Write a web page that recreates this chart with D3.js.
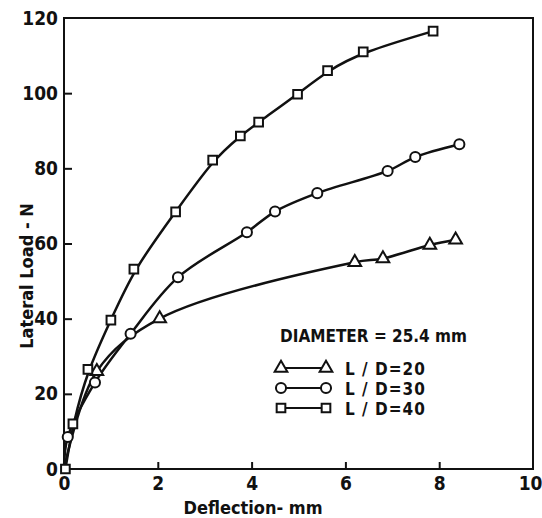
<!DOCTYPE html>
<html>
<head>
<meta charset="utf-8">
<script src="https://cdn.jsdelivr.net/npm/d3@7"></script>
<style>
  body { margin: 0; background: #fff; }
  text { font-family: "DejaVu Sans Condensed", "DejaVu Sans", sans-serif; font-weight: bold; fill: #111; }
</style>
</head>
<body>
<svg class="main" width="542" height="518"></svg>
<script>
// data (deflection mm, lateral load N)
const tri = [
  {x: 0, y: 0}, {x: 0.7, y: 26}, {x: 2.04, y: 40}, {x: 6.2, y: 55},
  {x: 6.8, y: 56}, {x: 7.8, y: 59.6}, {x: 8.35, y: 61}
];
const circ = [
  {x: 0, y: 0}, {x: 0.08, y: 8.5}, {x: 0.66, y: 23}, {x: 1.42, y: 36}, {x: 2.43, y: 51},
  {x: 3.9, y: 63}, {x: 4.5, y: 68.5}, {x: 5.4, y: 73.4}, {x: 6.9, y: 79.3},
  {x: 7.49, y: 83}, {x: 8.43, y: 86.4}
];
const sq = [
  {x: 0.03, y: 0}, {x: 0.19, y: 12}, {x: 0.51, y: 26.5}, {x: 1.0, y: 39.6}, {x: 1.49, y: 53.2},
  {x: 2.38, y: 68.4}, {x: 3.17, y: 82.2}, {x: 3.76, y: 88.6}, {x: 4.15, y: 92.3},
  {x: 4.98, y: 99.7}, {x: 5.62, y: 106}, {x: 6.38, y: 111}, {x: 7.87, y: 116.5}
];
const xTicks = [0, 2, 4, 6, 8, 10];
const yTicks = [0, 20, 40, 60, 80, 100, 120];
const legendLabels = ["L / D=20", "L / D=30", "L / D=40"];

const svg = d3.select("svg.main");
const x = d3.scaleLinear().domain([0, 10]).range([64, 533]);
const y = d3.scaleLinear().domain([0, 120]).range([469, 18]);

// frame
svg.append("rect")
  .attr("x", x(0)).attr("y", y(120))
  .attr("width", x(10) - x(0)).attr("height", y(0) - y(120))
  .attr("fill", "none").attr("stroke", "#111").attr("stroke-width", 2);

// ticks point inward
const xAxis = d3.axisBottom(x).tickValues(xTicks).tickSize(-7).tickPadding(8).tickFormat(d3.format("d"));
const gx = svg.append("g").attr("transform", `translate(0,${y(0)})`).call(xAxis);
const yAxis = d3.axisLeft(y).tickValues(yTicks).tickSize(-8).tickPadding(6).tickFormat(d3.format("d"));
const gy = svg.append("g").attr("transform", `translate(${x(0)},0)`).call(yAxis);
[gx, gy].forEach(g => {
  g.select(".domain").remove();
  g.selectAll("line").attr("stroke", "#111").attr("stroke-width", 2);
  g.selectAll("text").style("font-size", "19px").style("font-family", "DejaVu Sans Condensed, sans-serif").style("font-weight", "bold");
});
gx.selectAll(".tick").filter(d => d === 0 || d === 10).select("line").remove();
gy.selectAll(".tick").filter(d => d === 0 || d === 120).select("line").remove();
// keep "10" inside the window
gx.selectAll(".tick").filter(d => d === 10).select("text").attr("text-anchor", "end").attr("dx", 9);

svg.append("text").attr("x", 253).attr("y", 514).attr("text-anchor", "middle")
  .style("font-size", "18px").text("Deflection- mm");
svg.append("text").attr("transform", "translate(33,276) rotate(-90)").attr("text-anchor", "middle")
  .style("font-size", "18px").text("Lateral Load - N");

// curves: through the points for the sparse series, smoothed fit for the squares
const lineThrough = d3.line().x(d => x(d.x)).y(d => y(d.y)).curve(d3.curveCatmullRom.alpha(0.5));
const lineFit = d3.line().x(d => x(d.x)).y(d => y(d.y)).curve(d3.curveBasis);
[[tri, lineThrough], [circ, lineThrough], [sq, lineFit]].forEach(([s, ln]) => {
  svg.append("path").attr("d", ln(s))
    .attr("fill", "none").attr("stroke", "#111").attr("stroke-width", 2.5);
});

// markers
const sym = [d3.symbolTriangle, d3.symbolCircle, d3.symbolSquare];
const symSize = [70, 80, 75];
function marker(g, i, px, py) {
  g.append("path")
    .attr("d", d3.symbol().type(sym[i]).size(symSize[i])())
    .attr("transform", `translate(${px},${py})`)
    .attr("fill", "#fff").attr("stroke", "#111").attr("stroke-width", 2);
}
const mg = svg.append("g");
[tri, circ, sq].forEach((s, i) => {
  s.forEach(d => {
    if (i < 2 && d.x === 0) return;
    marker(mg, i, x(d.x), y(d.y));
  });
});

// legend
svg.append("text").attr("x", 280).attr("y", 342).style("font-size", "17px").text("DIAMETER = 25.4 mm");
legendLabels.forEach((lab, i) => {
  const ly = 368 + i * 20;
  svg.append("line").attr("x1", 280).attr("x2", 327).attr("y1", ly).attr("y2", ly)
    .attr("stroke", "#111").attr("stroke-width", 2);
  marker(svg, i, 281, ly);
  marker(svg, i, 326, ly);
  svg.append("text").attr("x", 345).attr("y", ly + 7).style("font-size", "17px")
    .style("letter-spacing", "1px").text(lab);
});
</script>
</body>
</html>
